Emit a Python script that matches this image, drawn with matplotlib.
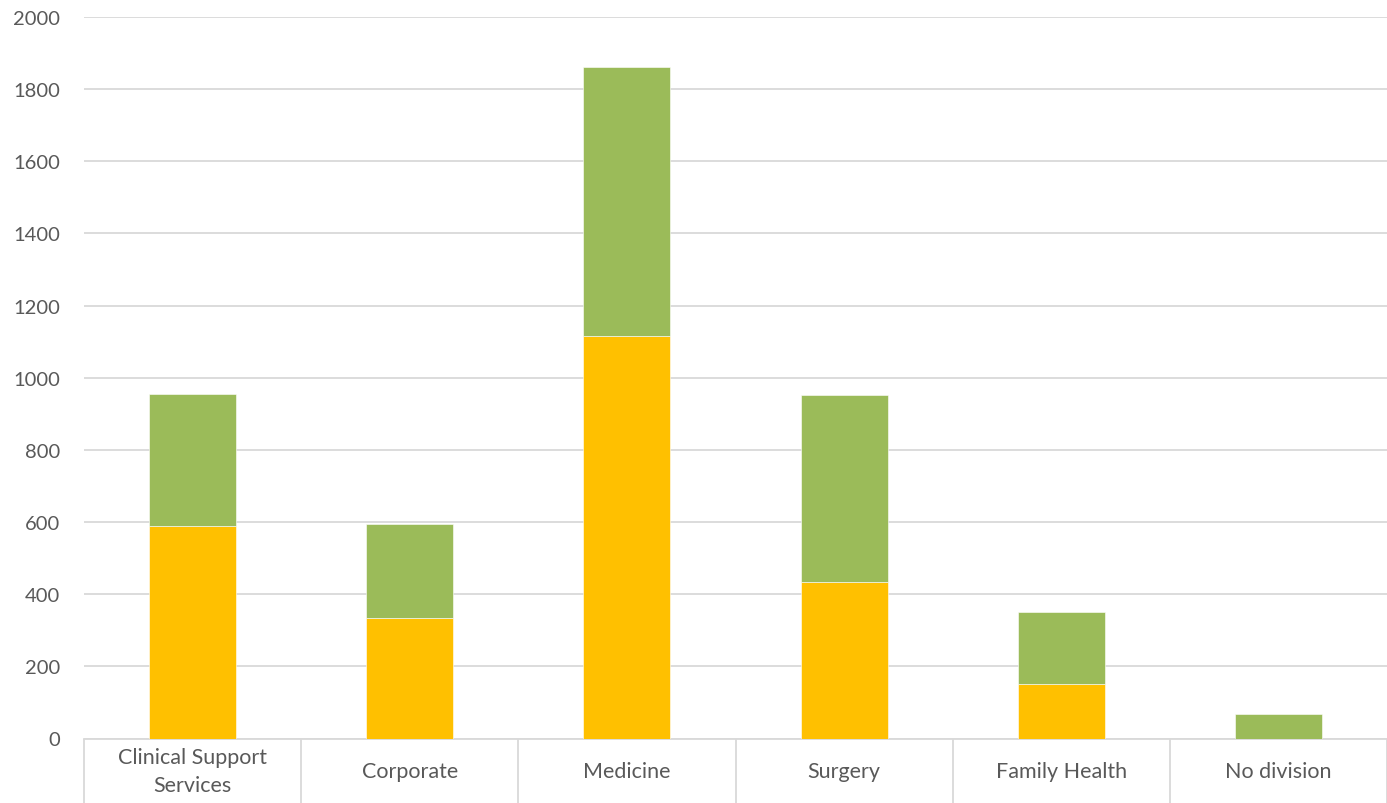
import matplotlib.pyplot as plt
import numpy as np

divisions = ['Clinical Support\nServices', 'Corporate', 'Medicine', 'Surgery',
             'Family Health', 'No division']
orange_vals = [589, 334, 1115, 434, 150, 0]
green_vals = [366, 260, 746, 518, 201, 68]

plt.rcParams['font.family'] = ['Lato', 'DejaVu Sans']

fig = plt.figure(figsize=(13.87, 8.04), dpi=100)
ax = fig.add_axes([84 / 1387, 64.5 / 804, 1 - 84 / 1387, 721.5 / 804])

x = np.arange(len(divisions))
ax.bar(x, orange_vals, width=0.4, color='#FFC000', edgecolor='white', linewidth=0.4, zorder=3)
ax.bar(x, green_vals, width=0.4, bottom=orange_vals, color='#9BBB59',
       edgecolor='white', linewidth=0.4, zorder=3)

ax.set_xlim(-0.5, len(divisions) - 0.5)
ax.set_ylim(0, 2000)
ax.set_yticks(range(0, 2001, 200))
ax.grid(axis='y', color='#d9d9d9', linewidth=1.3, zorder=0)

# category labels centred vertically, separators as long ticks between categories
ax.set_xticks(x)
ax.set_xticklabels(divisions, fontsize=15.5, color='#595959', linespacing=1.5)
for lab in ax.get_xticklabels():
    lab.set_verticalalignment('center')
ax.tick_params(axis='x', which='major', length=0, pad=23.5)
ax.set_xticks(np.arange(-0.5, len(divisions)), minor=True)
ax.tick_params(axis='x', which='minor', length=47, color='#d9d9d9', width=1.3)
ax.tick_params(axis='y', length=0, pad=17, labelsize=14.5, labelcolor='#595959')

for side in ['top', 'right', 'left']:
    ax.spines[side].set_visible(False)
ax.spines['bottom'].set_color('#d9d9d9')
ax.spines['bottom'].set_linewidth(1.3)

fig.savefig('out.png', dpi=100)
